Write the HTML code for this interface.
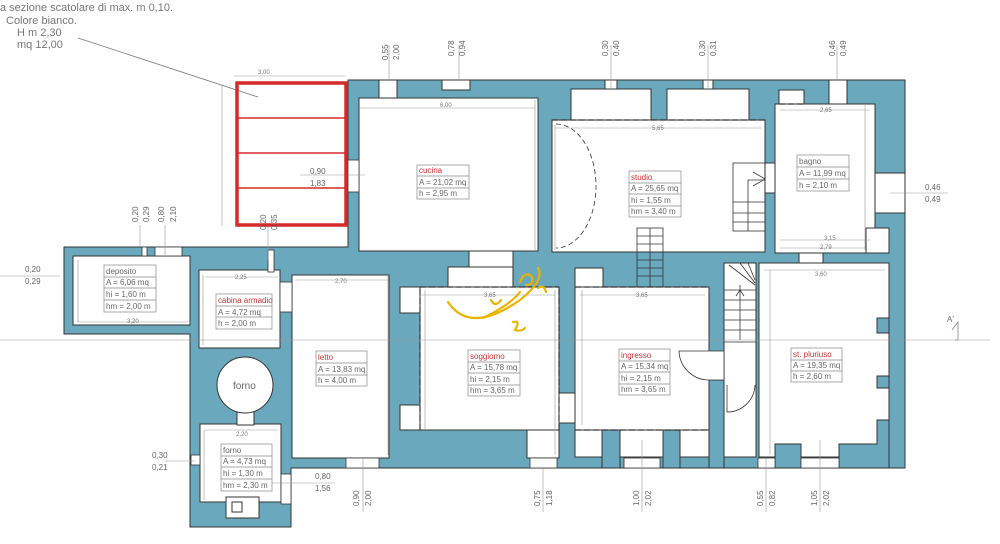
<!DOCTYPE html>
<html><head><meta charset="utf-8"><style>
html,body{margin:0;padding:0;background:#fff;width:1000px;height:544px;overflow:hidden}
svg{display:block}
text{font-family:"Liberation Sans",sans-serif}
.d{font-size:6px;fill:#777}
.v{font-size:8px;fill:#666}
.b{font-size:8px;fill:#666}
.r{font-size:8px;fill:#c33}
</style></head><body>
<svg width="1000" height="544" viewBox="0 0 1000 544" xmlns="http://www.w3.org/2000/svg">
<polygon fill="#6aa8bd" stroke="#333" stroke-width="1" points="348,80 905,80 905,468 291,468 291,527 190,527 190,334 64,334 64,247 348,247"/>
<g fill="#fff" stroke="#333" stroke-width="1">
<rect x="379" y="80" width="18" height="18"/><rect x="442" y="80" width="28" height="10"/>
<rect x="571" y="89" width="80" height="31"/><rect x="667" y="89" width="82" height="31"/>
<rect x="605" y="80" width="12" height="9"/><rect x="703" y="80" width="10" height="9"/>
<rect x="779" y="90" width="25" height="14"/><rect x="829" y="80" width="18" height="24"/>
<rect x="875" y="173" width="30" height="40"/>
<rect x="359" y="98" width="179" height="153"/>
<rect x="552" y="120" width="213" height="132"/>
<rect x="775" y="104" width="100" height="149"/>
<rect x="866" y="228" width="23" height="25"/>
<rect x="73" y="256" width="117" height="69"/>
<rect x="199" y="270" width="81" height="78"/>
<rect x="292" y="275" width="97" height="183"/>
<rect x="469" y="251" width="44" height="20"/>
<rect x="448" y="267" width="65" height="20"/>
<rect x="400" y="287" width="20" height="26"/><rect x="400" y="405" width="20" height="25"/>
<rect x="420" y="287" width="139" height="143"/>
<rect x="527" y="430" width="32" height="28"/>
<rect x="559" y="393" width="16" height="30"/>
<rect x="575" y="268" width="28" height="20"/>
<rect x="575" y="287" width="134" height="143"/>
<rect x="575" y="430" width="27" height="27"/><rect x="620" y="430" width="43" height="27"/><rect x="680" y="430" width="29" height="27"/>
<rect x="724" y="263" width="32" height="194"/>
<rect x="759" y="263" width="130" height="194"/>
<rect x="799" y="253" width="24" height="10"/>
<rect x="765" y="163" width="10" height="30"/>
<rect x="200" y="424" width="81" height="78"/>
<rect x="226" y="497" width="33" height="21"/>
<rect x="237" y="412" width="17" height="13"/>
<circle cx="245" cy="385" r="28"/>
</g>
<g fill="#6aa8bd" stroke="#333" stroke-width="1">
<rect x="602" y="430" width="18" height="38"/><rect x="663" y="430" width="17" height="38"/>
<rect x="775" y="444" width="26" height="24"/>
<polygon points="889,263 889,468 839,468 839,444 877,444 877,420 889,420"/>
<rect x="877" y="376" width="12" height="12"/><rect x="877" y="318" width="12" height="15"/>
<rect x="709" y="380" width="15" height="88"/>
</g>
<g fill="#fff" stroke="#333" stroke-width="0.8">
<rect x="530" y="458" width="27" height="10"/>
<rect x="624" y="458" width="36" height="10"/><rect x="758" y="458" width="17" height="10"/>
<rect x="801" y="458" width="38" height="10"/><rect x="346" y="458" width="33" height="10"/>
<rect x="268" y="250" width="6" height="22"/><rect x="142" y="247" width="5" height="9"/>
<rect x="155" y="247" width="27" height="9"/>
<rect x="191" y="455" width="9" height="10"/>
<rect x="281" y="474" width="10" height="30"/>
<rect x="280" y="282" width="12" height="30"/>
<rect x="348" y="160" width="11" height="32"/>
</g>
<rect x="232" y="502" width="10" height="10" fill="#fff" stroke="#333"/>
<g fill="none" stroke="#333" stroke-width="0.8">
<rect x="637" y="228" width="26" height="59"/><line x1="650" y1="228" x2="650" y2="287"/>
<path d="M637 236H663M637 244H663M637 252H663M637 260H663M637 268H663M637 276H663"/>
<rect x="733" y="163" width="32" height="68"/><path d="M748 180H765M733 202H765M733 213H765M733 222H765M748 180V231"/>
<path d="M753 172L765 179L753 186"/>
<path d="M724 290H756M724 300H756M724 310H756M724 320H756M724 330H756M724 342H756M740 285V340M736 296L740 290L744 296"/>
<path d="M729 265L755 285M740 263L755 283M748 263L755 280"/>
<path d="M679 351H724V380H709 A30 30 0 0 1 679 351Z" fill="#fff"/>
<path d="M727 385V412 A28 28 0 0 0 755 385" />
<path d="M556 124 A40 62 0 0 1 556 248" stroke-dasharray="5,3"/>
</g>
<g stroke="#333" stroke-width="1.2" stroke-dasharray="6,3" fill="none">
<path d="M552 120H765M779 104H804M420 287H559M575 287H709M575 430H709M420 430V287M559 430V287"/>
</g>
<g stroke="#999" stroke-width="0.6" fill="none">
<path d="M0 340H990"/>
<path d="M360 108H535M555 128H762M780 110H870M780 240H870M780 248H865M764 270H885M580 295H705M420 295H555M295 280H388M205 277H278M77 322H188M205 430H278"/>
<path d="M535 100V250M555 125V250M865 105V250M770 270V455M582 290V425M425 290V430M555 290V455M388 275V455M78 260V322M203 275V345M204 430V500"/>
<path d="M389 45V80M459 45V80M611 45V89M708 45V89M837 45V80M140 225V247M165 225V256M268 225V260"/>
<path d="M363 458V512M543 468V512M642 440V512M766 458V512M820 440V512"/>
<path d="M890 193H948M0 276H60M165 461H195M270 483H335M300 175H365M234 76H346M222 85V226"/>
</g>
<line x1="78" y1="38" x2="258" y2="97" stroke="#777" stroke-width="0.8"/>
<path d="M955 340H958V322L952 330" stroke="#888" fill="none" stroke-width="0.8"/>
<text x="947" y="322" class="v">A'</text>
<g stroke="#d62a2a" stroke-width="3.5" fill="none"><rect x="237" y="83" width="109" height="142"/>
<path d="M237 118H346M237 153H346M237 188H346" stroke-width="1.5"/></g>
<g font-size="11" fill="#777"><text x="0" y="11">a sezione scatolare di max. m 0,10.</text>
<text x="6" y="24">Colore bianco.</text><text x="17" y="36">H m 2,30</text><text x="17" y="48">mq 12,00</text></g>
<g class="v">
<text x="310" y="174">0,90</text><text x="310" y="186">1,83</text>
<text x="925" y="190">0,46</text><text x="925" y="202">0,49</text>
<text x="25" y="272">0,20</text><text x="25" y="284">0,29</text>
<text x="152" y="458">0,30</text><text x="152" y="470">0,21</text>
<text x="315" y="479">0,80</text><text x="315" y="491">1,56</text>
</g>
<g class="v" font-size="7.5">
<text transform="translate(388,60) rotate(-90)">0,55</text><text transform="translate(399,60) rotate(-90)">2,00</text>
<text transform="translate(454,56) rotate(-90)">0,78</text><text transform="translate(465,56) rotate(-90)">0,94</text>
<text transform="translate(608,56) rotate(-90)">0,30</text><text transform="translate(619,56) rotate(-90)">0,40</text>
<text transform="translate(705,56) rotate(-90)">0,30</text><text transform="translate(716,56) rotate(-90)">0,31</text>
<text transform="translate(835,56) rotate(-90)">0,46</text><text transform="translate(846,56) rotate(-90)">0,49</text>
<text transform="translate(138,222) rotate(-90)">0,20</text><text transform="translate(149,222) rotate(-90)">0,29</text>
<text transform="translate(164,222) rotate(-90)">0,80</text><text transform="translate(176,222) rotate(-90)">2,10</text>
<text transform="translate(266,230) rotate(-90)">0,20</text><text transform="translate(277,230) rotate(-90)">0,35</text>
<text transform="translate(359,506) rotate(-90)">0,90</text><text transform="translate(371,506) rotate(-90)">2,00</text>
<text transform="translate(540,506) rotate(-90)">0,75</text><text transform="translate(552,506) rotate(-90)">1,18</text>
<text transform="translate(639,506) rotate(-90)">1,00</text><text transform="translate(651,506) rotate(-90)">2,02</text>
<text transform="translate(763,506) rotate(-90)">0,55</text><text transform="translate(775,506) rotate(-90)">0,82</text>
<text transform="translate(817,506) rotate(-90)">1,05</text><text transform="translate(829,506) rotate(-90)">2,02</text>
</g>
<g class="d"><text x="258" y="74">3,00</text><text x="440" y="107">6,00</text><text x="652" y="130">5,65</text><text x="820" y="112">2,65</text>
<text x="824" y="240">3,15</text><text x="820" y="249">2,79</text><text x="815" y="276">3,60</text><text x="636" y="297">3,65</text><text x="484" y="297">3,65</text>
<text x="335" y="283">2,70</text><text x="235" y="279">2,25</text><text x="127" y="323">3,20</text><text x="236" y="436">2,20</text></g>
<g fill="#fff" stroke="#888" stroke-width="0.7">
<rect x="417" y="165" width="52" height="34"/><rect x="629" y="171" width="52" height="46"/><rect x="797" y="155" width="52" height="36"/>
<rect x="104" y="265" width="52" height="47"/><rect x="216" y="294" width="56" height="35"/><rect x="316" y="351" width="51" height="35"/>
<rect x="221" y="444" width="51" height="47"/><rect x="468" y="350" width="52" height="46"/><rect x="619" y="349" width="51" height="46"/>
<rect x="791" y="348" width="51" height="34"/>
</g>
<g stroke="#888" stroke-width="0.7">
<path d="M417 176H469M417 188H469M629 183H681M629 194H681M629 206H681M797 167H849M797 179H849M104 277H156M104 288H156M104 300H156M216 306H272M216 317H272M316 363H367M316 375H367M221 456H272M221 467H272M221 479H272M468 362H520M468 373H520M468 385H520M619 361H670M619 372H670M619 384H670M791 360H842M791 371H842"/>
</g>
<g font-size="7.5">
<text x="419" y="173" class="r">cucina</text><text x="419" y="185" class="b">A = 21,02 mq</text><text x="419" y="196" class="b">h = 2,95 m</text>
<text x="631" y="180" class="r">studio</text><text x="631" y="191" class="b">A = 25,65 mq</text><text x="631" y="203" class="b">hi = 1,55 m</text><text x="631" y="214" class="b">hm = 3,40 m</text>
<text x="799" y="164" class="b">bagno</text><text x="799" y="176" class="b">A = 11,99 mq</text><text x="799" y="188" class="b">h = 2,10 m</text>
<text x="106" y="274" class="b">deposito</text><text x="106" y="285" class="b">A = 6,06 mq</text><text x="106" y="297" class="b">hi = 1,60 m</text><text x="106" y="309" class="b">hm = 2,00 m</text>
<text x="218" y="303" class="r">cabina armadio</text><text x="218" y="315" class="b">A = 4,72 mq</text><text x="218" y="326" class="b">h = 2,00 m</text>
<text x="318" y="360" class="r">letto</text><text x="318" y="372" class="b">A = 13,83 mq</text><text x="318" y="383" class="b">h = 4,00 m</text>
<text x="223" y="453" class="b">forno</text><text x="223" y="464" class="b">A = 4,73 mq</text><text x="223" y="476" class="b">hi = 1,30 m</text><text x="223" y="488" class="b">hm = 2,30 m</text>
<text x="470" y="359" class="r">soggiomo</text><text x="470" y="370" class="b">A = 15,78 mq</text><text x="470" y="382" class="b">hi = 2,15 m</text><text x="470" y="393" class="b">hm = 3,65 m</text>
<text x="621" y="358" class="r">ingresso</text><text x="621" y="369" class="b">A = 15,34 mq</text><text x="621" y="381" class="b">hi = 2,15 m</text><text x="621" y="392" class="b">hm = 3,65 m</text>
<text x="793" y="357" class="r">st. pluriuso</text><text x="793" y="368" class="b">A = 19,35 mq</text><text x="793" y="379" class="b">h = 2,60 m</text>
</g>
<text x="233" y="389" font-size="10" fill="#666">forno</text>
<g stroke="#e8b400" stroke-width="2.2" fill="none" stroke-linecap="round">
<path d="M448 302 Q470 335 520 300 Q545 280 538 268"/><path d="M483 318 Q510 305 520 292"/>
<path d="M491 300 q4 8 10 0"/><path d="M513 322 q8 -2 2 8 q6 2 10 -2"/><path d="M520 282 q5 -12 12 -5 q2 8 -6 8"/><path d="M538 288 q6 -4 8 4"/>
</g>
</svg>
</body></html>
